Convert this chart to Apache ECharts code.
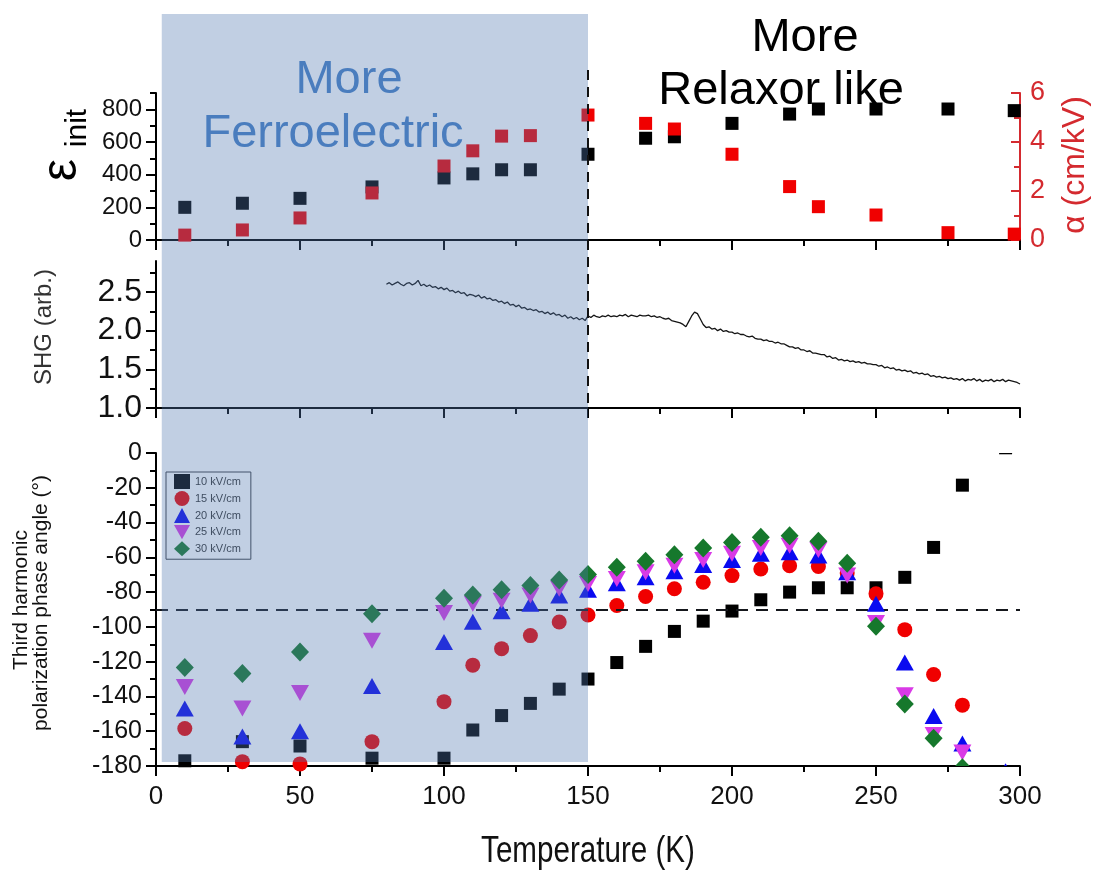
<!DOCTYPE html>
<html>
<head>
<meta charset="utf-8">
<script src="https://cdn.jsdelivr.net/npm/echarts@6/dist/echarts.min.js"></script>
<style>
  html, body { margin: 0; padding: 0; background: #fff; }
  #chart { width: 1101px; height: 871px; }
</style>
</head>
<body>
<div id="chart"></div>
<script>
// ---------- data ----------
// Top panel: initial permittivity (left axis) and Rayleigh coefficient alpha (right axis)
const epsTemps  = [10, 30, 50, 75, 100, 110, 120, 130, 150, 170, 180, 200, 220, 230, 250, 275, 298];
const epsInit   = [200, 225, 255, 325, 380, 405, 430, 430, 525, 623, 632, 714, 771, 802, 802, 802, 792];
const alphaVals = [0.20, 0.41, 0.90, 1.92, 3.02, 3.64, 4.24, 4.26, 5.10, 4.76, 4.53, 3.50, 2.18, 1.36, 1.02, 0.30, 0.24];
const epsMajorTicks = [0, 200, 400, 600, 800];
const epsMinorTicks = [100, 300, 500, 700, 900];

// Middle panel: SHG signal, one reading per kelvin from 80 K to 300 K
const shgStartTemp = 80;
const shgValues = [
  2.60, 2.62, 2.59, 2.61, 2.63, 2.60, 2.58, 2.61, 2.62, 2.59,
  2.61, 2.65, 2.58, 2.60, 2.57, 2.59, 2.56, 2.57, 2.54, 2.56,
  2.53, 2.55, 2.51, 2.52, 2.49, 2.51, 2.48, 2.49, 2.45, 2.47,
  2.46, 2.44, 2.46, 2.42, 2.44, 2.41, 2.42, 2.39, 2.40, 2.37,
  2.38, 2.35, 2.37, 2.33, 2.34, 2.31, 2.33, 2.29, 2.30, 2.27,
  2.28, 2.26, 2.27, 2.24, 2.25, 2.22, 2.24, 2.21, 2.23, 2.20,
  2.21, 2.18, 2.20, 2.16, 2.18, 2.15, 2.17, 2.14, 2.16, 2.13,
  2.19, 2.17, 2.20, 2.18, 2.17, 2.19, 2.18, 2.20, 2.18, 2.19,
  2.18, 2.20, 2.19, 2.21, 2.18, 2.20, 2.19, 2.18, 2.20, 2.19,
  2.19, 2.20, 2.18, 2.19, 2.17, 2.18, 2.16, 2.15, 2.16, 2.13,
  2.12, 2.11, 2.10, 2.08, 2.05, 2.12, 2.19, 2.24, 2.22, 2.15,
  2.08, 2.04, 2.05, 2.02, 2.03, 2.00, 2.02, 1.99, 2.00, 1.98,
  1.98, 1.96, 1.97, 1.95, 1.95, 1.93, 1.92, 1.93, 1.90, 1.89,
  1.89, 1.87, 1.88, 1.86, 1.86, 1.84, 1.85, 1.83, 1.83, 1.81,
  1.79, 1.79, 1.77, 1.78, 1.75, 1.75, 1.73, 1.74, 1.71, 1.71,
  1.70, 1.69, 1.69, 1.66, 1.67, 1.64, 1.65, 1.62, 1.63, 1.61,
  1.62, 1.60, 1.61, 1.59, 1.60, 1.58, 1.59, 1.57, 1.57, 1.56,
  1.56, 1.54, 1.55, 1.52, 1.53, 1.51, 1.52, 1.49, 1.50, 1.48,
  1.49, 1.47, 1.48, 1.45, 1.46, 1.44, 1.45, 1.43, 1.44, 1.41,
  1.42, 1.40, 1.41, 1.39, 1.40, 1.38, 1.39, 1.37, 1.38, 1.36,
  1.38, 1.35, 1.37, 1.36, 1.38, 1.35, 1.37, 1.34, 1.36, 1.35,
  1.37, 1.34, 1.36, 1.35, 1.37, 1.34, 1.36, 1.35, 1.34, 1.33,
  1.31
];
const shgMajorTicks = [1.0, 1.5, 2.0, 2.5];
const shgMinorTicks = [1.25, 1.75, 2.25, 2.75];

// Bottom panel: third harmonic polarization phase angle (degrees) per drive field
const phaseTemps = [10, 30, 50, 75, 100, 110, 120, 130, 140, 150, 160, 170, 180, 190, 200, 210, 220, 230, 240, 250, 260, 270, 280, 295];
const phase10kV = [-177, -166, -168.5, -175.5, -175.5, -159.3, -151, -144, -135.8, -130, -120.5, -111.2, -102.6, -96.7, -90.9, -84.4, -80, -77.5, -77.5, -77.5, -71.5, -54.3, -18.5, 3];
const phase15kV = [-158.4, -177.5, -178.8, -166, -143, -122, -112.5, -105, -97.2, -93.2, -87.7, -82.5, -78.1, -74.3, -70.5, -66.7, -64.8, -65.3, -69, -81, -101.6, -127.4, -145, null];
const phase20kV = [-147, -163, -160, -134, -108.7, -97, -91, -86.7, -82, -78.7, -74.9, -71.5, -68, -64.4, -61.5, -58, -57.1, -59, -68.6, -86.7, -120.5, -151.3, -167, -183];
const phase25kV = [-134.5, -147, -138, -108, -92, -86.7, -85, -82, -78, -75.3, -72.4, -68.6, -64.8, -61.5, -58, -54.6, -53.3, -55.8, -70.5, -97.8, -139.3, -162.2, -172.3, null];
const phase30kV = [-123.4, -126.8, -114.4, -92.5, -83.5, -81.6, -78.7, -76.2, -73, -69.9, -65.7, -62.3, -58.5, -54.6, -51.4, -48.5, -47.6, -50.8, -63.4, -99.7, -144.4, -164.1, -181, null];
const fieldNames = ['10 kV/cm', '15 kV/cm', '20 kV/cm', '25 kV/cm', '30 kV/cm'];
const phaseReference = -90;

// Temperature regions
const ferroRange = [2, 150];
const boundaryTemp = 150;

// ---------- styles ----------
const FONT = "'Liberation Sans', Arial, Helvetica, sans-serif";
const RED_AXIS = '#d42a2f';
const DOWN_TRIANGLE = 'path://M0,0L18,0L9,16Z';

const phaseLook = [
  { color: '#000000', symbol: 'rect', size: 13, rotate: 0, icon: 'rect' },
  { color: '#f00000', symbol: 'circle', size: 15, rotate: 0, icon: 'circle' },
  { color: '#0a0af0', symbol: 'triangle', size: [18, 16], rotate: 0, icon: 'triangle' },
  { color: '#d93ae6', symbol: 'triangle', size: [18, 16], rotate: 180, icon: DOWN_TRIANGLE },
  { color: '#16782c', symbol: 'diamond', size: [18, 19], rotate: 0, icon: 'diamond' }
];
const phaseSeriesData = [phase10kV, phase15kV, phase20kV, phase25kV, phase30kV];
const PHASE_MIN = -180, PHASE_MAX = 0;

const axisLineStyle = { color: '#000', width: 2 };

function xAxisFor(gridIndex, withLabels) {
  return {
    type: 'value', gridIndex, min: 0, max: 300, interval: 50,
    axisLine: { show: true, onZero: false, lineStyle: axisLineStyle },
    axisTick: { show: true, length: 10, lineStyle: axisLineStyle },
    minorTick: { show: true, splitNumber: 2, length: 6, lineStyle: axisLineStyle },
    splitLine: { show: false }, minorSplitLine: { show: false },
    axisLabel: withLabels
      ? { show: true, margin: 18, fontSize: 26, fontFamily: FONT, color: '#111' }
      : { show: false }
  };
}

// ---------- chart ----------
const chart = echarts.init(document.getElementById('chart'), null, { renderer: 'canvas' });

const gridBase = { left: 156, right: 81, outerBoundsMode: 'none', containLabel: false };

// points outside the phase axis range are drawn clipped to the plot rectangle
const clippedPoints = [];
const phaseSeries = phaseSeriesData.map((vals, k) => {
  const inRange = [];
  vals.forEach((v, i) => {
    if (v === null) return;
    if (v < PHASE_MIN || v > PHASE_MAX) clippedPoints.push([phaseTemps[i], v, k]);
    else inRange.push([phaseTemps[i], v]);
  });
  const look = phaseLook[k];
  const s = {
    name: fieldNames[k], type: 'scatter', xAxisIndex: 2, yAxisIndex: 5,
    symbol: look.symbol, symbolSize: look.size, symbolRotate: look.rotate,
    itemStyle: { color: look.color, opacity: 1 },
    emphasis: { disabled: true },
    data: inRange, z: 3 + k
  };
  if (k === 0) {
    s.markLine = {
      silent: true, symbol: 'none', label: { show: false },
      lineStyle: { color: '#15171c', width: 2, type: [12, 8] },
      data: [[{ coord: [0, phaseReference] }, { coord: [300, phaseReference] }]]
    };
  }
  return s;
});

function clippedItem(params, api) {
  const k = api.value(2);
  const look = phaseLook[k];
  const p = api.coord([api.value(0), api.value(1)]);
  const x = p[0], y = p[1];
  const style = { fill: look.color };
  if (look.symbol === 'rect') {
    const h = look.size / 2;
    return { type: 'rect', shape: { x: x - h, y: y - h, width: 2 * h, height: 2 * h }, style };
  }
  if (look.symbol === 'circle') {
    return { type: 'circle', shape: { cx: x, cy: y, r: look.size / 2 }, style };
  }
  const w = look.size[0] / 2, h = look.size[1] / 2;
  if (look.symbol === 'diamond') {
    return { type: 'polygon', shape: { points: [[x, y - h], [x + w, y], [x, y + h], [x - w, y]] }, style };
  }
  const pts = look.rotate === 180
    ? [[x - w, y - h], [x + w, y - h], [x, y + h]]
    : [[x, y - h], [x + w, y + h], [x - w, y + h]];
  return { type: 'polygon', shape: { points: pts }, style };
}

const option = {
  animation: false,
  backgroundColor: '#ffffff',
  textStyle: { fontFamily: FONT },
  grid: [
    Object.assign({}, gridBase, { top: 93, height: 147 }),
    Object.assign({}, gridBase, { top: 261, height: 147 }),
    Object.assign({}, gridBase, { top: 453, height: 313 })
  ],
  legend: {
    data: fieldNames.map((name, k) => ({ name, icon: phaseLook[k].icon })),
    orient: 'vertical', left: 166, top: 472,
    padding: [2, 10, 3, 8], itemGap: 2, itemWidth: 16, itemHeight: 15,
    borderColor: '#3a3d44', borderWidth: 1, backgroundColor: 'transparent',
    textStyle: { fontSize: 11, color: '#333', fontFamily: FONT },
    selectedMode: false
  },
  xAxis: [xAxisFor(0, false), xAxisFor(1, false), xAxisFor(2, true)],
  yAxis: [
    { // 0: permittivity, major ticks + labels
      type: 'value', gridIndex: 0, position: 'left', min: 0, max: 900, interval: 100,
      axisLine: { show: true, onZero: false, lineStyle: axisLineStyle },
      axisTick: { show: true, length: 10, lineStyle: axisLineStyle, customValues: epsMajorTicks },
      axisLabel: { margin: 14, fontSize: 24, color: '#111', fontFamily: FONT, customValues: epsMajorTicks },
      splitLine: { show: false }
    },
    { // 1: permittivity minor ticks
      type: 'value', gridIndex: 0, position: 'left', min: 0, max: 900, interval: 100,
      axisLine: { show: false },
      axisTick: { show: true, length: 6, lineStyle: axisLineStyle, customValues: epsMinorTicks },
      axisLabel: { show: false }, splitLine: { show: false }
    },
    { // 2: alpha on the right
      type: 'value', gridIndex: 0, position: 'right', min: 0, max: 6, interval: 2,
      axisLine: { show: true, onZero: false, lineStyle: { color: RED_AXIS, width: 2 } },
      axisTick: { show: true, inside: true, length: 9, lineStyle: { color: RED_AXIS, width: 2 } },
      minorTick: { show: true, splitNumber: 2, length: 6, lineStyle: { color: RED_AXIS, width: 2 } },
      axisLabel: { margin: 10, fontSize: 27, color: RED_AXIS, fontFamily: FONT },
      splitLine: { show: false }, minorSplitLine: { show: false }
    },
    { // 3: SHG major ticks + labels
      type: 'value', gridIndex: 1, position: 'left', min: 1.0, max: 2.9, interval: 0.25,
      axisLine: { show: true, onZero: false, lineStyle: axisLineStyle },
      axisTick: { show: true, length: 10, lineStyle: axisLineStyle, customValues: shgMajorTicks },
      axisLabel: { margin: 14, fontSize: 32, color: '#111', fontFamily: FONT, customValues: shgMajorTicks,
        formatter: v => v.toFixed(1) },
      splitLine: { show: false }
    },
    { // 4: SHG minor ticks
      type: 'value', gridIndex: 1, position: 'left', min: 1.0, max: 2.9, interval: 0.25,
      axisLine: { show: false },
      axisTick: { show: true, length: 6, lineStyle: axisLineStyle, customValues: shgMinorTicks },
      axisLabel: { show: false }, splitLine: { show: false }
    },
    { // 5: phase angle
      type: 'value', gridIndex: 2, position: 'left', min: PHASE_MIN, max: PHASE_MAX, interval: 20,
      axisLine: { show: true, onZero: false, lineStyle: axisLineStyle },
      axisTick: { show: true, length: 10, lineStyle: axisLineStyle },
      minorTick: { show: true, splitNumber: 2, length: 6, lineStyle: axisLineStyle },
      axisLabel: { margin: 14, fontSize: 25, color: '#111', fontFamily: FONT },
      splitLine: { show: false }, minorSplitLine: { show: false }
    }
  ],
  series: [
    {
      name: 'eps_init', type: 'scatter', xAxisIndex: 0, yAxisIndex: 0,
      symbol: 'rect', symbolSize: 13, itemStyle: { color: '#000', opacity: 1 },
      emphasis: { disabled: true },
      data: epsTemps.map((t, i) => [t, epsInit[i]]), z: 3
    },
    {
      name: 'alpha', type: 'scatter', xAxisIndex: 0, yAxisIndex: 2,
      symbol: 'rect', symbolSize: 13, itemStyle: { color: '#f00000', opacity: 1 },
      emphasis: { disabled: true },
      data: epsTemps.map((t, i) => [t, alphaVals[i]]), z: 4
    },
    {
      name: 'SHG', type: 'line', xAxisIndex: 1, yAxisIndex: 3,
      showSymbol: false, symbol: 'none',
      lineStyle: { color: '#141414', width: 1.3 },
      emphasis: { disabled: true },
      data: shgValues.map((v, i) => [shgStartTemp + i, v]), z: 3
    },
    ...phaseSeries,
    {
      name: 'clipped', type: 'custom', xAxisIndex: 2, yAxisIndex: 5,
      clip: true, renderItem: clippedItem, data: clippedPoints, z: 8, silent: true
    }
  ]
};

chart.setOption(option);

// ---------- annotations drawn over the panels ----------
const xLeft = chart.convertToPixel({ xAxisIndex: 0 }, ferroRange[0]);
const xRight = chart.convertToPixel({ xAxisIndex: 0 }, ferroRange[1]);
const xBoundary = chart.convertToPixel({ xAxisIndex: 0 }, boundaryTemp);
const xMid = chart.convertToPixel({ xAxisIndex: 2 }, 150);
const shgBottom = chart.convertToPixel({ yAxisIndex: 3 }, 1.0);

const bigText = (text, x, y, color) => ({
  type: 'text', x, y, z: 120, silent: true,
  style: { text, fill: color, font: "47px " + FONT, align: 'center', verticalAlign: 'middle' }
});
const sideText = (text, x, y, size, color) => ({
  type: 'text', x, y, rotation: Math.PI / 2, z: 120, silent: true,
  style: { text, fill: color, font: size + 'px ' + FONT, align: 'center', verticalAlign: 'middle' }
});

chart.setOption({
  graphic: [
    { // ferroelectric region shading
      type: 'rect', z: 100, silent: true,
      shape: { x: xLeft, y: 14, width: xRight - xLeft, height: 748 },
      style: { fill: 'rgba(80,120,176,0.355)' }
    },
    { // boundary between regimes
      type: 'line', z: 110, silent: true,
      shape: { x1: xBoundary, y1: 70, x2: xBoundary, y2: shgBottom },
      style: { stroke: '#111', lineWidth: 2, lineDash: [10, 7] }
    },
    bigText('More', 349, 80, '#4a7dbe'),
    bigText('Ferroelectric', 333, 134, '#4a7dbe'),
    bigText('More', 805, 38, '#000'),
    bigText('Relaxor like', 781, 91, '#000'),
    sideText('ε', 62, 170, 50, '#000'),
    sideText('init', 78, 128, 30, '#000'),
    sideText('α (cm/kV)', 1075, 165, 32, RED_AXIS),
    sideText('SHG (arb.)', 44, 327, 24, '#333'),
    sideText('Third harmonic', 21, 600, 21, '#111'),
    sideText('polarization phase angle (°)', 41, 603, 21, '#111'),
    { // temperature axis title, set in a condensed width
      type: 'text', x: xMid, y: 852, scaleX: 0.8, z: 120, silent: true,
      style: { text: 'Temperature (K)', fill: '#111', font: '37px ' + FONT, align: 'center', verticalAlign: 'middle' }
    }
  ]
});
</script>
</body>
</html>
